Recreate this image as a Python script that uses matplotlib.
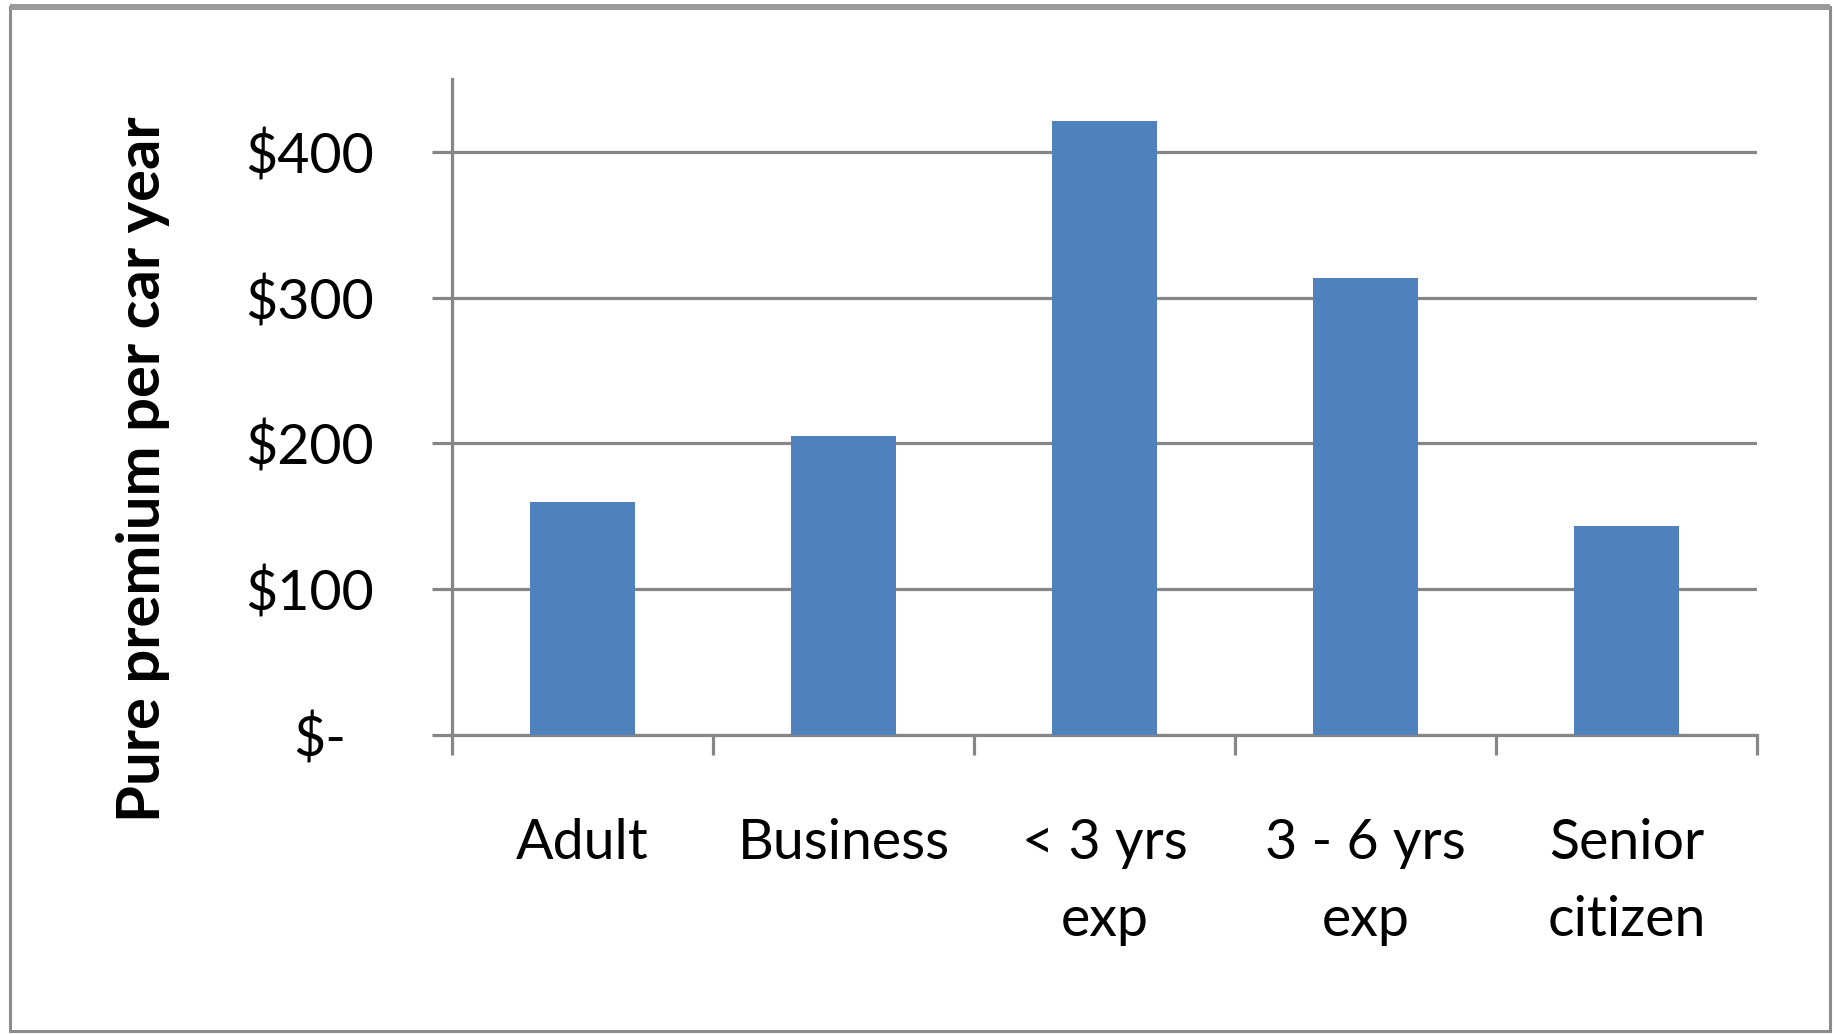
import matplotlib.pyplot as plt
from matplotlib.patches import Rectangle
from matplotlib.transforms import ScaledTranslation

categories = ['Adult', 'Business', '< 3 yrs\nexp', '3 - 6 yrs\nexp', 'Senior\ncitizen']
premiums = [160, 205, 421.5, 313.5, 143.5]
y_ticks = [0, 100, 200, 300, 400]
y_tick_labels = ['$-', '$100', '$200', '$300', '$400']

plt.rcParams['font.family'] = ['Lato', 'DejaVu Sans']

grid_color = '#868686'
bar_color = '#4F81BD'

fig = plt.figure(figsize=(18.37, 10.34), dpi=100)
ax = fig.add_axes([0.2461, 0.2892, 0.7104, 0.6344])

x = list(range(len(categories)))
ax.bar(x, premiums, width=0.4, color=bar_color, zorder=3)

ax.set_xlim(-0.5, len(categories) - 0.5)
ax.set_ylim(0, 450)

# y axis
ax.set_yticks(y_ticks)
ax.set_yticklabels(y_tick_labels, fontsize=40)
ax.yaxis.grid(True, color=grid_color, linewidth=2.3, zorder=1)
ax.tick_params(axis='y', direction='out', length=14.4, width=2.3, color=grid_color, pad=42)

# x axis: ticks at category borders, labels in the middle
ax.set_xticks([i - 0.5 for i in range(len(categories) + 1)])
ax.set_xticklabels([])
ax.set_xticks(x, minor=True)
ax.set_xticklabels(categories, minor=True, fontsize=40, linespacing=1.62)
ax.tick_params(axis='x', which='major', direction='out', length=14.4, width=2.3, color=grid_color)
ax.tick_params(axis='x', which='minor', length=0, pad=60)

for side in ['top', 'right']:
	ax.spines[side].set_visible(False)
for side in ['left', 'bottom']:
	ax.spines[side].set_color(grid_color)
	ax.spines[side].set_linewidth(2.3)

# the "$-" label sits a bit left of the others
zero_label = ax.yaxis.get_major_ticks()[0].label1
zero_label.set_transform(zero_label.get_transform() + ScaledTranslation(-0.28, 0, fig.dpi_scale_trans))

ax.set_ylabel('Pure premium per car year', fontsize=43, fontweight='bold')
ax.yaxis.set_label_coords(-0.216, 0.405)

# chart border
fig.patches.append(Rectangle((10 / 1837, 3 / 1034), 1820 / 1837, 1024 / 1034,
	transform=fig.transFigure, fill=False, edgecolor='#8c8c8c', linewidth=2.2))
fig.patches.append(Rectangle((10 / 1837, 1024 / 1034), 1820 / 1837, 6 / 1034,
	transform=fig.transFigure, facecolor='#9a9a9a', edgecolor='none'))

fig.savefig('out.png', dpi=100, facecolor='white')
